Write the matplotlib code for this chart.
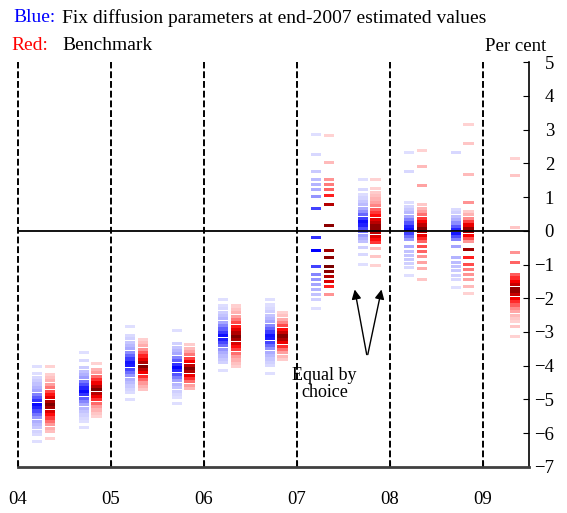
import matplotlib
matplotlib.use('Agg')
import matplotlib.pyplot as plt
import numpy as np
from matplotlib.colors import LinearSegmentedColormap

plt.rcParams['font.family'] = ['Liberation Serif', 'DejaVu Serif']

# half-year sample points (decimal years)
dates = [2004.28, 2004.78, 2005.28, 2005.78, 2006.28, 2006.78,
         2007.28, 2007.78, 2008.28, 2008.78, 2009.28]
years = [2004, 2005, 2006, 2007, 2008, 2009]
year_labels = ['04', '05', '06', '07', '08', '09']

# dense band of each column: (low, high, mode); None where there is no band
blue_band = [(-6.04, -4.21, -5.16), (-5.66, -3.97, -4.74), (-4.80, -3.02, -3.94),
             (-4.95, -3.29, -4.06), (-3.91, -2.19, -3.14), (-4.00, -2.19, -3.14),
             None, (-0.33, 1.12, 0.24), (-0.27, 0.86, 0.06), (-0.27, 0.68, -0.03),
             None]
red_band = [(-5.95, -4.20, -5.16), (-5.51, -4.09, -4.71), (-4.71, -3.17, -4.00),
            (-4.68, -3.32, -4.09), (-4.03, -2.19, -3.14), (-3.82, -2.40, -3.14),
            None, (-0.36, 1.24, 0.09), (-0.33, 0.86, 0.06), (-0.33, 0.62, 0.03),
            (-2.70, -1.24, -1.75)]

# isolated dashes of each column: (value, intensity 0..1)
blue_extra = [
    [(-4.03, 0.1), (-6.25, 0.1)],
    [(-3.61, 0.1), (-3.85, 0.15), (-5.84, 0.1)],
    [(-2.84, 0.1), (-5.0, 0.1)],
    [(-2.96, 0.1), (-5.13, 0.1)],
    [(-2.04, 0.1), (-4.15, 0.1)],
    [(-2.04, 0.1), (-4.24, 0.1)],
    [(2.84, 0.1), (2.25, 0.15), (1.75, 0.25), (1.51, 0.35), (1.36, 0.4),
     (1.21, 0.45), (1.01, 0.55), (0.65, 0.8), (-0.21, 0.85), (-0.59, 1.0),
     (-1.07, 0.8), (-1.30, 0.6), (-1.45, 0.55), (-1.60, 0.5), (-1.75, 0.4),
     (-1.90, 0.3), (-2.04, 0.2), (-2.31, 0.1)],
    [(1.51, 0.1), (1.21, 0.15), (-0.5, 0.2), (-0.71, 0.15), (-1.0, 0.1)],
    [(2.31, 0.1), (1.75, 0.15), (-0.47, 0.45), (-0.62, 0.3), (-0.74, 0.28),
     (-0.86, 0.25), (-0.98, 0.2), (-1.10, 0.15), (-1.33, 0.1)],
    [(2.31, 0.15), (-0.47, 0.5), (-0.80, 0.4), (-0.93, 0.35), (-1.06, 0.3),
     (-1.19, 0.25), (-1.32, 0.2), (-1.45, 0.15), (-1.69, 0.1)],
    [],
]
red_extra = [
    [(-4.03, 0.1), (-6.15, 0.1)],
    [(-3.94, 0.1)],
    [],
    [],
    [],
    [],
    [(2.81, 0.1), (2.01, 0.2), (1.51, 0.35), (1.36, 0.4), (1.21, 0.45),
     (1.04, 0.6), (0.77, 0.85), (0.15, 0.95), (-0.59, 0.9), (-0.80, 0.95),
     (-1.07, 1.0), (-1.20, 0.95), (-1.35, 0.85), (-1.50, 0.75), (-1.65, 0.6),
     (-1.90, 0.35)],
    [(1.51, 0.1), (-0.53, 0.2), (-0.77, 0.15), (-1.04, 0.1)],
    [(2.37, 0.1), (1.90, 0.2), (1.33, 0.3), (-0.47, 0.5), (-0.62, 0.45),
     (-0.77, 0.35), (-0.95, 0.3), (-1.13, 0.25), (-1.45, 0.15)],
    [(3.15, 0.1), (2.58, 0.15), (1.66, 0.2), (0.83, 0.35), (-0.56, 0.9),
     (-0.80, 0.6), (-1.00, 0.5), (-1.15, 0.4), (-1.30, 0.35), (-1.45, 0.3),
     (-1.66, 0.2), (-1.87, 0.1)],
    [(2.13, 0.1), (1.63, 0.15), (0.09, 0.15), (-0.65, 0.35), (-0.95, 0.45),
     (-2.84, 0.15), (-3.14, 0.1)],
]

blue_cmap = LinearSegmentedColormap.from_list('b', ['#ededff', '#a5a5ff', '#0000ff'])
red_cmap = LinearSegmentedColormap.from_list('r', ['#ffeaea', '#ff9a9a', '#ff0000', '#7a0000'])

fig = plt.figure(figsize=(5.67, 5.13), dpi=100)
ax = fig.add_axes([0.031, 0.0897, 0.902, 0.7894])

DW = 0.112   # dash width (years)
DH = 0.092   # dash height (per cent)
OFF = 0.068  # offset of blue/red column from date


def draw_column(x, band, extra, cmap):
    ys, cs = [], []
    if band is not None:
        lo, hi, mode = band
        half = max(mode - lo, hi - mode)
        for y in np.arange(lo, hi + 1e-6, 0.1):
            ys.append(y)
            cs.append(0.1 + 0.9 * (1 - abs(y - mode) / half) ** 1.4)
    for y, i in extra:
        ys.append(y)
        cs.append(i)
    if ys:
        ax.bar([x] * len(ys), [DH] * len(ys), bottom=np.array(ys) - DH / 2,
               width=DW, color=[cmap(c) for c in cs], linewidth=0, zorder=3)


for d, bb, be, rb, re_ in zip(dates, blue_band, blue_extra, red_band, red_extra):
    draw_column(d - OFF, bb, be, blue_cmap)
    draw_column(d + OFF, rb, re_, red_cmap)

for yr in years:
    ax.axvline(yr, color='black', linestyle=(0, (3.5, 1.5)), linewidth=1.4,
               zorder=2, clip_on=False)
ax.axhline(0, color='black', linewidth=1.3, zorder=4)

ax.set_xlim(2004, 2009.5)
ax.set_ylim(-7, 5)
ax.set_xticks(years)
ax.set_xticklabels(year_labels, fontsize=13.5)
ax.set_yticks(range(-7, 6))
ax.yaxis.tick_right()
ax.tick_params(axis='y', direction='in', length=4, pad=18, labelsize=13.5)
for lab in ax.get_yticklabels():
    lab.set_horizontalalignment('right')
ax.tick_params(axis='x', direction='in', length=4, pad=17)
for s in ['top', 'left']:
    ax.spines[s].set_visible(False)
ax.spines['bottom'].set_color('#404040')
ax.spines['bottom'].set_linewidth(2)
ax.spines['right'].set_linewidth(1.2)

# annotation
ax.text(2007.30, -4.55, 'Equal by\nchoice', ha='center', va='center', fontsize=13,
        linespacing=1.0)
for tip in [(2007.62, -1.66), (2007.92, -1.66)]:
    ax.annotate('', xy=tip, xytext=(2007.76, -3.75),
                arrowprops=dict(arrowstyle='-|>', color='black', lw=1.0,
                                mutation_scale=14), zorder=5)

fig.text(13 / 567, 1 - 18 / 513, 'Blue:', color='blue', fontsize=14, va='center')
fig.text(62 / 567, 1 - 18 / 513, 'Fix diffusion parameters at end-2007 estimated values',
         color='black', fontsize=14, va='center')
fig.text(11 / 567, 1 - 45 / 513, 'Red:', color='red', fontsize=14, va='center')
fig.text(62 / 567, 1 - 45 / 513, 'Benchmark', color='black', fontsize=14, va='center')
fig.text(516 / 567, 1 - 47 / 513, 'Per cent', color='black', fontsize=13.5,
         ha='center', va='center')

fig.savefig('out.png', dpi=100, facecolor='white')
